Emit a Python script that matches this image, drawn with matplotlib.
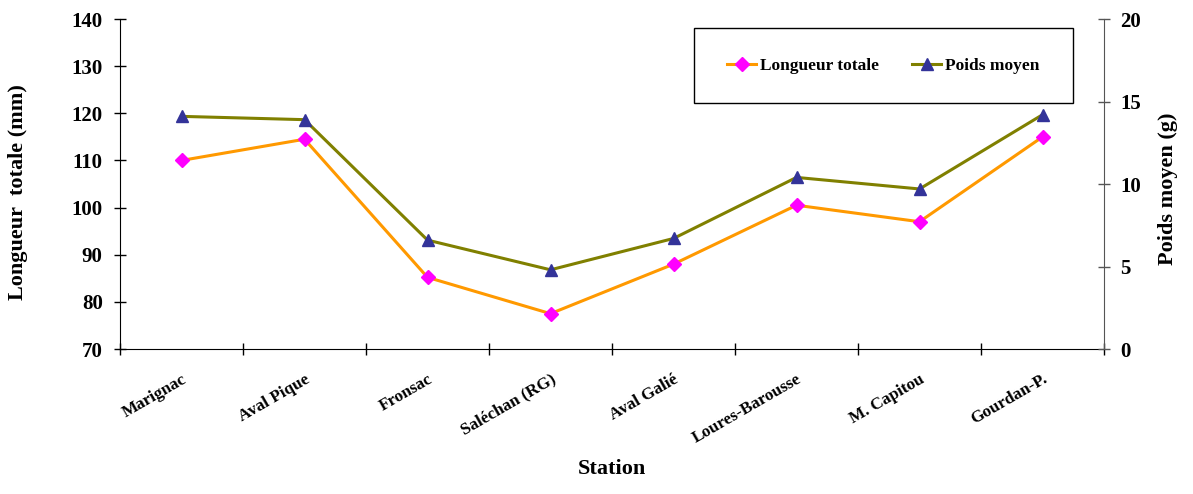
import matplotlib.pyplot as plt
from matplotlib.patches import Rectangle
import numpy as np

stations = ["Marignac", "Aval Pique", "Fronsac", "Saléchan (RG)", "Aval Galié",
            "Loures-Barousse", "M. Capitou", "Gourdan-P."]
longueur = [110.0, 114.5, 85.2, 77.5, 88.0, 100.5, 97.0, 115.0]
poids = [14.1, 13.9, 6.6, 4.8, 6.7, 10.4, 9.7, 14.2]

plt.rcParams['font.family'] = ['Liberation Serif', 'DejaVu Serif']
plt.rcParams['font.weight'] = 'bold'

fig = plt.figure(figsize=(11.93, 4.94), dpi=100)
ax = fig.add_axes([0.1006, 0.2935, 0.8248, 0.668])
ax2 = ax.twinx()

x = np.arange(len(stations)) + 0.5
l1, = ax.plot(x, longueur, color='#FF9900', lw=2.2, marker='D', ms=7,
              mfc='#FF00FF', mec='#FF00FF', label='Longueur totale', zorder=3)
l2, = ax2.plot(x, poids, color='#808000', lw=2.2, marker='^', ms=9,
               mfc='#333399', mec='#333399', label='Poids moyen', zorder=3)

ax.set_xlim(0, len(stations))
ax.set_ylim(70, 140)
ax.set_yticks(range(70, 141, 10))
ax2.set_ylim(0, 20)
ax2.set_yticks(range(0, 21, 5))

# category boundaries carry the tick marks, labels sit at the centres
ax.set_xticks(np.arange(len(stations) + 1))
ax.set_xticklabels([])
ax.set_xticks(x, minor=True)
ax.set_xticklabels(stations, minor=True, rotation=30, ha='right',
                   rotation_mode='anchor', fontsize=12.3, fontweight='bold')
ax.tick_params(axis='x', which='minor', length=0, pad=16)
ax.tick_params(axis='x', which='major', direction='inout', length=8, width=1)
ax.tick_params(axis='y', direction='inout', length=9, width=1, labelsize=15, pad=8)
ax2.tick_params(axis='y', direction='inout', length=9, width=1, labelsize=15, pad=7,
                color='#555555')

for a in (ax, ax2):
    a.spines['top'].set_visible(False)
ax.spines['right'].set_visible(False)
ax2.spines['left'].set_visible(False)
ax2.spines['bottom'].set_visible(False)
ax2.spines['right'].set_color('#555555')

ax.set_ylabel('Longueur  totale (mm)', fontsize=16, fontweight='bold')
ax.yaxis.set_label_coords(-0.0935, 0.476)
ax2.set_ylabel('Poids moyen (g)', fontsize=16, fontweight='bold')
ax2.yaxis.set_label_coords(1.055, 0.486)
ax.set_xlabel('Station', fontsize=16, fontweight='bold')
ax.xaxis.set_label_coords(0.5, -0.333)

# legend box
ax2.add_patch(Rectangle((0.583, 0.745), 0.385, 0.228, transform=ax2.transAxes,
                        fill=True, facecolor='white', edgecolor='black', lw=1,
                        clip_on=False, zorder=4))
leg = ax2.legend(handles=[l1, l2], ncol=2, loc='center',
                 bbox_to_anchor=(0.583 + 0.385 / 2, 0.745 + 0.228 / 2),
                 frameon=False, prop={'weight': 'bold', 'size': 12.5},
                 handlelength=1.7, handletextpad=0.2, columnspacing=1.9)
leg.set_zorder(5)

fig.savefig('out.png', dpi=100)
